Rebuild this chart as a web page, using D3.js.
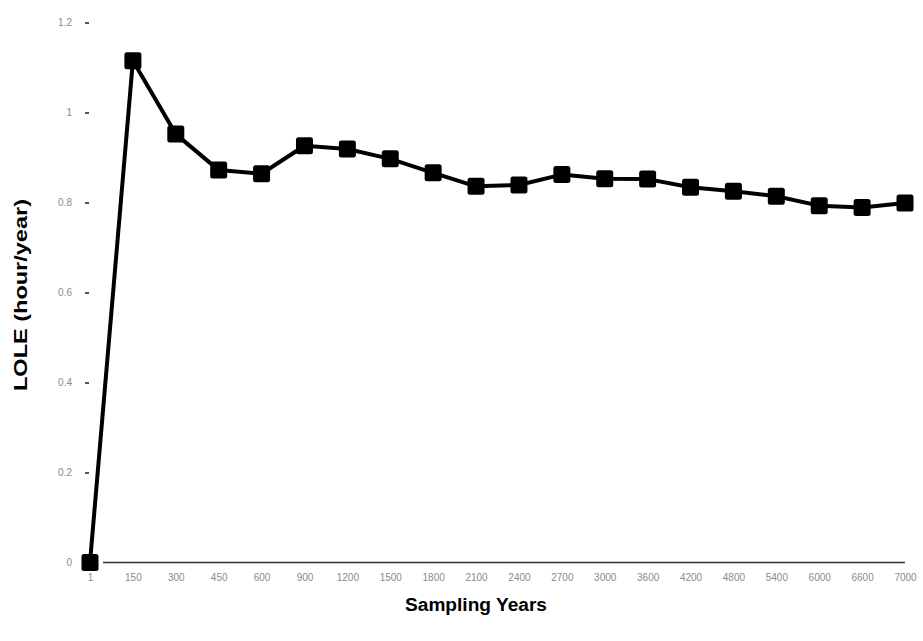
<!DOCTYPE html>
<html>
<head>
<meta charset="utf-8">
<script src="https://cdn.jsdelivr.net/npm/d3@7"></script>
<style>
  body { margin: 0; background: #fff; }
  svg { display: block; }
</style>
</head>
<body>
<svg id="chart" width="923" height="641"></svg>
<script>
// sampling years on x axis (categorical, equally spaced)
var years = ["1", "150", "300", "450", "600", "900", "1200", "1500", "1800", "2100",
             "2400", "2700", "3000", "3600", "4200", "4800", "5400", "6000", "6600", "7000"];
// LOLE estimate at each sample size
var lole = [0, 1.115, 0.952, 0.872, 0.864, 0.926, 0.919, 0.897, 0.866, 0.836,
            0.839, 0.862, 0.853, 0.852, 0.834, 0.825, 0.814, 0.793, 0.789, 0.799];
var yTicks = [0, 0.2, 0.4, 0.6, 0.8, 1, 1.2];

var svg = d3.select("#chart");

var x = d3.scalePoint()
  .domain(years)
  .range([90, 905]);

var y = d3.scaleLinear()
  .domain([0, 1.2])
  .range([562.5, 22.5]);

//************************ axes *************************/

var xAxis = svg.append("g")
  .attr("transform", "translate(0,562)")
  .call(d3.axisBottom(x).tickSize(0).tickPadding(12));
xAxis.select(".domain").remove();
xAxis.selectAll("text")
  .attr("fill", "#8a8a8a")
  .style("font", "10px 'Liberation Sans', Arial, sans-serif");

// the baseline only starts right of the first point
svg.append("line")
  .attr("x1", 103).attr("x2", 905)
  .attr("y1", y(0)).attr("y2", y(0))
  .attr("stroke", "#333")
  .attr("stroke-width", 1.3);

var yAxis = svg.append("g")
  .attr("transform", "translate(89,0)")
  .call(d3.axisLeft(y).tickValues(yTicks).tickSize(4).tickPadding(13)
        .tickFormat(d3.format("")));
yAxis.select(".domain").remove();
yAxis.selectAll("line").attr("stroke", "#222").attr("stroke-width", 1.5);
yAxis.selectAll("text")
  .attr("fill", "#8a8a8a")
  .style("font", "10px 'Liberation Sans', Arial, sans-serif");

//************************ series *************************/

var line = d3.line()
  .x(function(d, i) { return x(years[i]); })
  .y(function(d) { return y(d); });

svg.append("path")
  .datum(lole)
  .attr("fill", "none")
  .attr("stroke", "#000")
  .attr("stroke-width", 4)
  .attr("stroke-linejoin", "round")
  .attr("d", line);

var sz = 17;
svg.append("g")
  .selectAll("rect")
  .data(lole)
  .enter().append("rect")
  .attr("x", function(d, i) { return x(years[i]) - sz / 2; })
  .attr("y", function(d) { return y(d) - sz / 2; })
  .attr("width", sz)
  .attr("height", sz)
  .attr("rx", 2.5)
  .attr("fill", "#000");

//************************ titles *************************/

svg.append("text")
  .attr("x", 476).attr("y", 611)
  .attr("text-anchor", "middle")
  .attr("textLength", 142)
  .attr("lengthAdjust", "spacingAndGlyphs")
  .style("font", "bold 18px 'Liberation Sans', Arial, sans-serif")
  .text("Sampling Years");

svg.append("text")
  .attr("transform", "translate(27,295) rotate(-90)")
  .attr("text-anchor", "middle")
  .attr("textLength", 192)
  .attr("lengthAdjust", "spacingAndGlyphs")
  .style("font", "bold 18px 'Liberation Sans', Arial, sans-serif")
  .text("LOLE (hour/year)");
</script>
</body>
</html>
